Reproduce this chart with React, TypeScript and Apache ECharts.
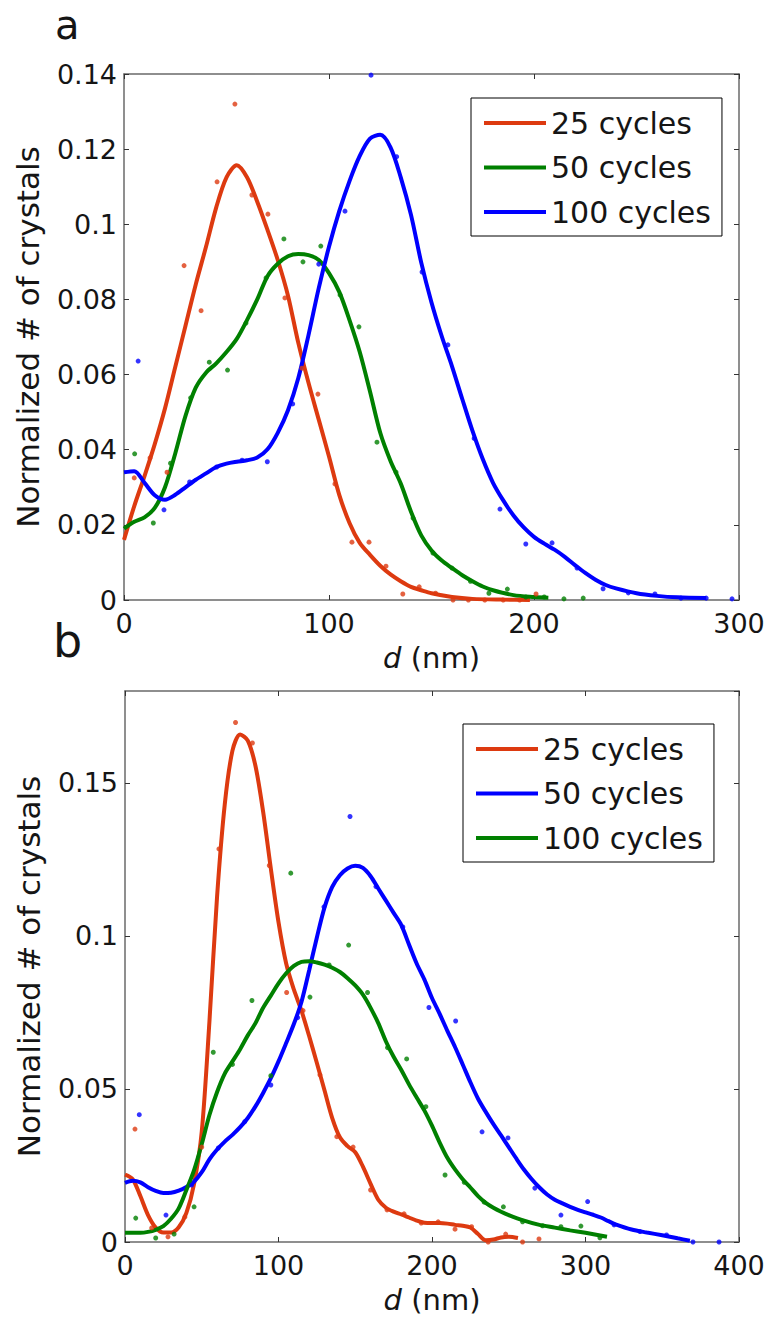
import React, { useEffect, useRef } from 'react';
import * as echarts from 'echarts';

const FONT = '"DejaVu Sans", "Liberation Sans", sans-serif';
const RED = '#dd3a10';
const GREEN = '#008000';
const BLUE = '#0000ff';
const TXT = '#151515';

// ---------- Panel a ----------
const aXTicks = { min: 0, max: 300, interval: 100 };
const aYTicks = { min: 0, max: 0.14, interval: 0.02 };
const aLegendNames = ['25 cycles', '50 cycles', '100 cycles'];

const a25Dots: number[][] = [
  [5, 0.0325], [12.7, 0.0378], [21, 0.034], [29.3, 0.089], [37.6, 0.077], [45.4, 0.1113],
  [54.1, 0.132], [62.4, 0.1078], [70.2, 0.1027], [78.5, 0.0804], [86.8, 0.0617], [94.6, 0.0548],
  [102.9, 0.0309], [111.2, 0.0154], [119.5, 0.0154], [127.8, 0.009], [136, 0.0016], [144, 0.0035],
  [152, 0.0018], [160.5, 0], [168, 0], [176, 0], [185, 0], [193, 0], [201, 0.0016],
];
const a25Curve: number[][] = [
  [0, 0.016], [5, 0.025], [10, 0.033], [15, 0.0415], [20, 0.051], [25, 0.062], [30, 0.073],
  [35, 0.084], [40, 0.094], [45, 0.1045], [50, 0.1125], [55, 0.1157], [60, 0.1125], [65, 0.106],
  [70, 0.0985], [75, 0.0905], [80, 0.081], [85, 0.0685], [90, 0.0578], [95, 0.048], [100, 0.0382],
  [105, 0.028], [110, 0.0205], [115, 0.0152], [120, 0.012], [125, 0.0091], [130, 0.0068],
  [135, 0.005], [140, 0.0035], [145, 0.0026], [150, 0.0018], [160, 0.0008], [170, 0.0003],
  [185, 0.0001], [198, 0],
];
const a50Dots: number[][] = [
  [5.2, 0.0389], [14.3, 0.0205], [22.7, 0.0364], [32.5, 0.0538], [41.6, 0.0633], [50.5, 0.0612],
  [59.5, 0.0737], [69.3, 0.0857], [78, 0.0961], [87.3, 0.09], [96, 0.0942], [105.4, 0.0812],
  [114.6, 0.0727], [123.4, 0.042], [132.7, 0.034], [141, 0.0218], [150.7, 0.0125], [160, 0.0085],
  [169, 0.005], [178, 0.0018], [187, 0.0029], [196, 0.0008], [205, 0.0008], [214.6, 0.0003], [224, 0.0005],
];
const a50Curve: number[][] = [
  [0, 0.019], [5, 0.0208], [10, 0.022], [15, 0.0245], [20, 0.03], [25, 0.039], [30, 0.049],
  [35, 0.0565], [40, 0.0605], [45, 0.063], [50, 0.066], [55, 0.0695], [60, 0.0745], [65, 0.08],
  [70, 0.0862], [75, 0.0895], [80, 0.0915], [85, 0.0921], [90, 0.0918], [95, 0.0905], [100, 0.087],
  [105, 0.082], [110, 0.0745], [115, 0.066], [120, 0.0555], [125, 0.0445], [130, 0.037],
  [135, 0.031], [140, 0.0235], [145, 0.0172], [150, 0.0132], [155, 0.0105], [160, 0.0085],
  [165, 0.0066], [170, 0.005], [175, 0.0036], [180, 0.0026], [190, 0.0013], [200, 0.0008], [207, 0.0006],
];
const a100Dots: number[][] = [
  [6.9, 0.0636], [19.5, 0.024], [32, 0.0314], [45.2, 0.0354], [57.6, 0.0372], [69.9, 0.0368],
  [82.3, 0.0522], [95, 0.0894], [107.8, 0.1035], [120.5, 0.1397], [133, 0.118], [145.4, 0.0873],
  [158, 0.0679], [170.8, 0.043], [183.4, 0.0242], [196, 0.0149], [208.8, 0.0152], [221, 0.0085],
  [233.7, 0.003], [246, 0.0019], [259, 0.0016], [271.7, 0.0005], [284, 0.0005], [296.6, 0.0003],
];
const a100Curve: number[][] = [
  [0, 0.034], [5, 0.0343], [10, 0.0312], [15, 0.0279], [20, 0.0267], [25, 0.028], [30, 0.03],
  [35, 0.032], [40, 0.0337], [45, 0.0354], [50, 0.0363], [55, 0.0368], [60, 0.0372], [65, 0.0379],
  [70, 0.0401], [75, 0.0445], [80, 0.0505], [85, 0.059], [90, 0.0705], [95, 0.083], [100, 0.094],
  [105, 0.1035], [110, 0.1115], [115, 0.1182], [120, 0.1228], [125, 0.1238], [130, 0.1205],
  [135, 0.1125], [140, 0.1025], [145, 0.0898], [150, 0.0792], [155, 0.0702], [160, 0.0622],
  [165, 0.0535], [170, 0.045], [175, 0.0375], [180, 0.0312], [185, 0.0265], [190, 0.0225],
  [195, 0.0193], [200, 0.0168], [205, 0.015], [210, 0.0134], [215, 0.0115], [220, 0.0093],
  [225, 0.0072], [230, 0.0054], [235, 0.004], [240, 0.0031], [250, 0.0018], [260, 0.0011],
  [270, 0.0007], [284, 0.0005],
];

// ---------- Panel b ----------
const bXTicks = { min: 0, max: 400, interval: 100 };
const bYTicks = { min: 0, max: 0.18, interval: 0.05 };
const bLegendNames = ['25 cycles', '50 cycles', '100 cycles'];

const b25Dots: number[][] = [
  [6.5, 0.0369], [17.4, 0.0046], [28, 0.0017], [39, 0.0082], [50, 0.031], [61.2, 0.1284],
  [72, 0.1697], [83, 0.163], [94, 0.123], [105.3, 0.0815], [116, 0.0756], [127, 0.0546],
  [138, 0.0344], [148.6, 0.031], [160, 0.017], [170.7, 0.0105], [181.8, 0.0092], [193, 0.0062],
  [204, 0.0066], [215, 0.0042], [225.8, 0.005], [236.6, 0], [248, 0.0026], [259, 0], [269.7, 0.001],
];
const b25Curve: number[][] = [
  [0, 0.022], [5, 0.0205], [10, 0.015], [15, 0.0088], [20, 0.0047], [25, 0.0031], [30, 0.0031],
  [35, 0.0048], [40, 0.0095], [45, 0.019], [50, 0.036], [55, 0.072], [60, 0.113], [65, 0.143],
  [70, 0.1605], [75, 0.1658], [80, 0.1638], [85, 0.1555], [90, 0.1405], [95, 0.122], [100, 0.1045],
  [105, 0.091], [110, 0.0825], [115, 0.0755], [120, 0.0672], [125, 0.0585], [130, 0.0495],
  [135, 0.0405], [140, 0.0342], [145, 0.0313], [150, 0.0293], [155, 0.0246], [160, 0.019],
  [165, 0.0138], [170, 0.0112], [175, 0.0099], [180, 0.009], [185, 0.008], [190, 0.007],
  [195, 0.0063], [200, 0.0062], [205, 0.0062], [210, 0.006], [215, 0.0056], [220, 0.0053],
  [225, 0.0047], [230, 0.0026], [235, 0.0006], [240, 0.0008], [245, 0.0015], [250, 0.0017], [256, 0.0013],
];
const b50Dots: number[][] = [
  [9.3, 0.0416], [26.7, 0.0088], [43.4, 0.0186], [60.8, 0.0307], [78, 0.0393], [95, 0.0513],
  [112.5, 0.0733], [129.6, 0.1095], [146.6, 0.139], [163.5, 0.1161], [181, 0.1029], [198, 0.0766],
  [215.4, 0.0722], [232.6, 0.036], [249.5, 0.034], [267, 0.0176], [284, 0.0088], [301.4, 0.0132],
  [318.6, 0.0056], [335.5, 0.0034], [352.8, 0.0023], [370, 0], [387, 0],
];
const b50Curve: number[][] = [
  [0, 0.0193], [5, 0.02], [10, 0.0195], [15, 0.0179], [20, 0.0167], [25, 0.016], [30, 0.0161],
  [35, 0.0168], [40, 0.018], [45, 0.0197], [50, 0.0228], [55, 0.027], [60, 0.0302], [65, 0.0328],
  [70, 0.035], [75, 0.0375], [80, 0.0405], [85, 0.0443], [90, 0.0487], [95, 0.0535], [100, 0.059],
  [105, 0.065], [110, 0.0712], [115, 0.0785], [120, 0.0888], [125, 0.0995], [130, 0.1093],
  [135, 0.116], [140, 0.1198], [145, 0.122], [150, 0.1229], [155, 0.1222], [160, 0.1195],
  [165, 0.1155], [170, 0.1115], [175, 0.1075], [180, 0.1035], [185, 0.0972], [190, 0.091],
  [195, 0.0858], [200, 0.0797], [205, 0.0745], [210, 0.069], [215, 0.0637], [220, 0.058],
  [225, 0.0522], [230, 0.0468], [235, 0.0425], [240, 0.0385], [245, 0.0348], [250, 0.031],
  [255, 0.0272], [260, 0.0236], [265, 0.0205], [270, 0.0178], [275, 0.0155], [280, 0.0138],
  [285, 0.0126], [290, 0.0115], [295, 0.0105], [300, 0.0097], [305, 0.0089], [310, 0.008],
  [315, 0.0068], [320, 0.0057], [330, 0.0041], [340, 0.0031], [350, 0.0022], [360, 0.0012], [368, 0.0004],
];
const b100Dots: number[][] = [
  [7, 0.0078], [20, 0.0013], [32, 0.0026], [45, 0.0115], [57.5, 0.062], [70, 0.058], [82.7, 0.0789],
  [95, 0.0543], [108, 0.1205], [120.5, 0.08], [133, 0.0905], [145.7, 0.097], [158, 0.0815],
  [171, 0.0635], [183.5, 0.0598], [196, 0.0442], [208.5, 0.0219], [221, 0.0195], [234, 0.013],
  [246.5, 0.0115], [259, 0.0066], [272, 0.0053], [284, 0.005], [297, 0.0052], [309.4, 0.0014],
];
const b100Curve: number[][] = [
  [0, 0.003], [5, 0.003], [10, 0.003], [15, 0.0033], [20, 0.004], [25, 0.0052], [30, 0.0076],
  [35, 0.011], [40, 0.017], [45, 0.0235], [50, 0.032], [55, 0.0415], [60, 0.049], [65, 0.055],
  [70, 0.059], [75, 0.063], [80, 0.0675], [85, 0.0715], [90, 0.0765], [95, 0.0805], [100, 0.0845],
  [105, 0.0878], [110, 0.0902], [115, 0.0915], [120, 0.0917], [125, 0.0913], [130, 0.0906],
  [135, 0.0896], [140, 0.0882], [145, 0.0862], [150, 0.0838], [155, 0.0808], [160, 0.0765],
  [165, 0.0715], [170, 0.0655], [175, 0.0605], [180, 0.0562], [185, 0.0515], [190, 0.0472],
  [195, 0.043], [200, 0.038], [205, 0.0325], [210, 0.0275], [215, 0.0237], [220, 0.0205],
  [225, 0.0178], [230, 0.015], [235, 0.0128], [240, 0.0112], [245, 0.0099], [250, 0.0088],
  [260, 0.007], [270, 0.0056], [280, 0.0047], [290, 0.0038], [300, 0.003], [314, 0.0017],
];

const axisLineStyle = { color: '#6a6a6a', width: 1.5 };
const tickStyle = { inside: true, length: 5, lineStyle: { color: '#333', width: 1 } };
const labelStyle = { fontFamily: FONT, fontSize: 27, color: TXT };

function fmtY(v: number) {
  if (v === 0) return '0';
  return String(parseFloat(v.toFixed(2)));
}

function makeX(grid: number, ticks: { min: number; max: number; interval: number }, main: boolean) {
  return {
    type: 'value',
    gridIndex: grid,
    position: main ? 'bottom' : 'top',
    min: ticks.min,
    max: ticks.max,
    interval: ticks.interval,
    axisLine: { show: true, onZero: false, lineStyle: axisLineStyle },
    axisTick: { show: true, ...tickStyle },
    axisLabel: main ? { show: true, margin: 10, ...labelStyle } : { show: false },
    splitLine: { show: false },
    name: main ? '{i|d} (nm)' : '',
    nameLocation: 'middle',
    nameGap: 43,
    nameTextStyle: {
      fontFamily: FONT,
      fontSize: 29,
      color: TXT,
      rich: { i: { fontFamily: FONT, fontSize: 29, fontStyle: 'italic', color: TXT } },
    },
  };
}

function makeY(grid: number, ticks: { min: number; max: number; interval: number }, main: boolean) {
  return {
    type: 'value',
    gridIndex: grid,
    position: main ? 'left' : 'right',
    min: ticks.min,
    max: ticks.max,
    interval: ticks.interval,
    axisLine: { show: true, onZero: false, lineStyle: axisLineStyle },
    axisTick: { show: true, ...tickStyle },
    axisLabel: main
      ? { show: true, margin: 7, showMaxLabel: ticks.max === 0.14, formatter: fmtY, ...labelStyle }
      : { show: false },
    splitLine: { show: false },
    name: main ? 'Normalized # of crystals' : '',
    nameLocation: 'middle',
    nameGap: 81,
    nameTextStyle: { fontFamily: FONT, fontSize: 31, color: TXT },
  };
}

function curve(name: string, data: number[][], color: string, xi: number) {
  return {
    type: 'line',
    name,
    xAxisIndex: xi,
    yAxisIndex: xi,
    data,
    smooth: 0.3,
    showSymbol: false,
    symbol: 'none',
    color,
    itemStyle: { color },
    lineStyle: { color, width: 4 },
    z: 3,
  };
}

function dots(name: string, data: number[][], color: string, xi: number) {
  return {
    type: 'scatter',
    name,
    xAxisIndex: xi,
    yAxisIndex: xi,
    data,
    symbolSize: 5,
    itemStyle: { color },
    z: 4,
  };
}

function legend(names: string[], tag: string, left: number, top: number) {
  return {
    show: true,
    data: names.map((n) => n + tag),
    formatter: (n: string) => n.replace(tag, ''),
    orient: 'vertical',
    left,
    top,
    padding: [10, 11, 9, 13],
    itemWidth: 62,
    itemHeight: 4,
    itemGap: 14.5,
    icon: 'rect',
    borderColor: '#000',
    borderWidth: 1,
    backgroundColor: '#fff',
    selectedMode: false,
    textStyle: { fontFamily: FONT, fontSize: 30, color: TXT, lineHeight: 30 },
  };
}

export default function App() {
  const ref = useRef<HTMLDivElement>(null);
  useEffect(() => {
    if (!ref.current) return;
    const chart = echarts.init(ref.current, undefined, { renderer: 'svg' });
    const TA = ' (a)';
    const TB = ' (b)';
    chart.setOption({
      animation: false,
      backgroundColor: '#fff',
      grid: [
        { left: 124, top: 74, width: 615, height: 526 },
        { left: 125, top: 691, width: 614, height: 551 },
      ],
      xAxis: [makeX(0, aXTicks, true), makeX(0, aXTicks, false), makeX(1, bXTicks, true), makeX(1, bXTicks, false)],
      yAxis: [makeY(0, aYTicks, true), makeY(0, aYTicks, false), makeY(1, bYTicks, true), makeY(1, bYTicks, false)],
      legend: [legend(aLegendNames, TA, 471, 98), legend(bLegendNames, TB, 463, 724)],
      graphic: [
        { type: 'text', left: 55, top: 5, style: { text: 'a', font: '40px "DejaVu Sans"', fill: TXT } },
        { type: 'text', left: 53, top: 618, style: { text: 'b', font: '46px "DejaVu Sans"', fill: TXT } },
      ],
      series: [
        dots('a25', a25Dots, RED, 0),
        dots('a50', a50Dots, GREEN, 0),
        dots('a100', a100Dots, BLUE, 0),
        curve(aLegendNames[0] + TA, a25Curve, RED, 0),
        curve(aLegendNames[1] + TA, a50Curve, GREEN, 0),
        curve(aLegendNames[2] + TA, a100Curve, BLUE, 0),
        dots('b25', b25Dots, RED, 2),
        dots('b50', b50Dots, BLUE, 2),
        dots('b100', b100Dots, GREEN, 2),
        curve(bLegendNames[0] + TB, b25Curve, RED, 2),
        curve(bLegendNames[1] + TB, b50Curve, BLUE, 2),
        curve(bLegendNames[2] + TB, b100Curve, GREEN, 2),
      ],
    });
    return () => chart.dispose();
  }, []);
  return (
    <div
      ref={ref}
      style={{ position: 'absolute', left: 0, top: 0, width: 775, height: 1329, background: '#fff' }}
    />
  );
}
